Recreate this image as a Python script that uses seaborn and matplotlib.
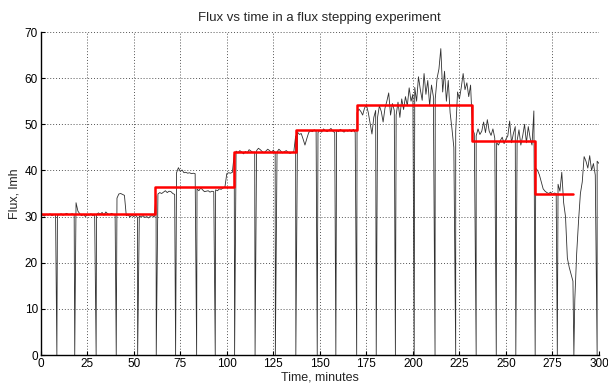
import numpy as np
import pandas as pd
import matplotlib
matplotlib.use("Agg")
import matplotlib.pyplot as plt
import seaborn as sns

flux_minutely = [
    30.2, 30.4, 30.1, 30.5, 30.3, 30.6, 30.2, 30.4, 30.5, 30.3,
    30.4, 30.6, 30.3, 30.5, 30.7, 30.4, 30.5, 30.6, 30.4, 33.0,
    31.2, 30.6, 30.2, 30.5, 30.0, 30.4, 30.3, 30.6, 30.2, 30.5,
    30.4, 30.8, 30.5, 30.9, 30.3, 31.0, 30.6, 30.4, 30.7, 30.5,
    30.3, 34.0, 34.9, 35.0, 34.8, 34.6, 30.2, 30.4, 29.9, 30.3,
    30.0, 30.3, 29.8, 30.1, 29.9, 30.2, 29.8, 30.0, 29.7, 30.1,
    30.2, 29.9, 34.5, 34.9, 35.2, 35.0, 35.3, 35.6, 35.2, 35.5,
    35.4, 35.0, 34.8, 39.5, 40.6, 39.8, 40.1, 39.5, 39.6, 39.4,
    39.5, 39.3, 39.4, 39.3, 36.0, 35.6, 36.2, 35.8, 35.4, 35.5,
    35.6, 35.3, 35.5, 35.4, 35.8, 35.6, 36.0, 35.9, 36.2, 36.4,
    39.3, 39.5, 39.4, 39.6, 43.5, 44.2, 43.8, 44.3, 44.0, 43.6,
    44.1, 43.8, 44.5, 44.2, 43.9, 44.0, 44.3, 44.8, 44.5, 44.1,
    43.8, 44.2, 44.6, 44.3, 43.9, 44.4, 43.8, 44.0, 44.6, 44.2,
    43.8, 44.1, 44.3, 43.9, 43.7, 43.9, 44.0, 47.5, 48.3, 47.8,
    48.0, 46.8, 45.5, 46.9, 48.2, 48.6, 48.4, 48.8, 48.5, 48.2,
    48.7, 48.3, 49.0, 48.6, 48.4, 48.8, 49.1, 48.5, 48.2, 48.7,
    48.4, 48.9, 48.6, 48.3, 48.7, 48.5, 48.8, 48.4, 48.9, 48.2,
    52.5, 53.3, 52.8, 52.0, 53.5, 54.2, 52.6, 50.2, 47.9, 51.5,
    53.0, 51.5, 54.0, 52.8, 50.5, 53.5, 55.0, 56.8, 52.0, 54.5,
    53.0, 52.0, 54.8, 51.5, 55.5, 53.2, 56.0, 54.0, 57.9, 55.0,
    56.5, 58.0, 55.0, 60.3, 57.5, 55.2, 61.0, 56.5, 59.5, 54.0,
    58.5, 56.0, 55.5, 60.0, 62.0, 66.4, 57.0, 61.5, 55.0, 59.5,
    52.5, 49.0, 45.0, 48.5, 57.0, 55.5, 58.0, 61.0, 57.5, 59.0,
    56.0, 58.5, 49.0, 48.0, 47.5, 49.0, 47.8, 48.5, 50.5, 48.2,
    51.0, 48.5, 47.6, 49.0, 47.0, 46.0, 45.5, 46.5, 47.2, 45.8,
    46.8, 47.5, 50.7, 46.0, 48.0, 49.5, 46.5, 48.8, 45.5, 47.5,
    50.0, 46.0, 49.5, 47.0, 45.5, 52.9, 40.5, 40.0, 39.0, 37.5,
    36.0, 35.5, 35.2, 35.0, 35.3, 34.8, 35.1, 35.0, 37.0, 35.5,
    39.6, 33.0, 30.0, 21.0, 19.0, 17.5, 16.0, 12.0, 22.0, 29.0,
    35.0, 37.5, 43.0, 42.0, 40.5, 43.2, 40.0, 41.5, 39.0, 42.0,
    41.5,
]
time_minutely = list(range(0, 301))

# Backflush dips (flux drops to zero)
dip_times = [8.7, 18.3, 29.8, 40.6, 52.1, 62.1, 72.5, 83.8, 93.8, 104.2,
             115.2, 126.1, 137.1, 148.6, 158.6, 169.8, 180.3, 190.6, 200.7,
             211.9, 223.0, 234.0, 244.8, 255.3, 265.7, 277.6, 286.5, 299.0]
dip_flux = [0.0] * len(dip_times)

# Set-point flux steps
step_times = [0, 61.4, 104.0, 137.0, 170.0, 232.0, 265.8, 286.0]
step_flux = [30.5, 36.5, 44.0, 48.8, 54.1, 46.4, 35.0, 35.0]

meas = pd.concat([
    pd.DataFrame({"time": time_minutely, "flux": flux_minutely}),
    pd.DataFrame({"time": dip_times, "flux": dip_flux}),
]).sort_values("time").reset_index(drop=True)
steps = pd.DataFrame({"time": step_times, "flux": step_flux})

sns.set_style("white")
plt.rcParams["font.family"] = ["Liberation Sans", "DejaVu Sans"]

fig = plt.figure(figsize=(6.08, 3.83), dpi=100)
ax = fig.add_axes([0.0669, 0.0731, 0.9183, 0.8433])

sns.lineplot(data=meas, x="time", y="flux", ax=ax, color="#303030",
             linewidth=0.6, estimator=None, sort=False)
sns.lineplot(data=steps, x="time", y="flux", ax=ax, color="#ff0000",
             linewidth=1.8, estimator=None, sort=False, drawstyle="steps-post")

ax.set_xlim(0, 300)
ax.set_ylim(0, 70)
ax.set_xticks(np.arange(0, 301, 25))
ax.set_yticks(np.arange(0, 71, 10))
ax.grid(True, color="#555555", linestyle=(0, (1, 2)), linewidth=0.7)
ax.set_axisbelow(True)
for s in ["top", "right"]:
    ax.spines[s].set_visible(False)
for s in ["left", "bottom"]:
    ax.spines[s].set_color("black")
    ax.spines[s].set_linewidth(1.0)
ax.tick_params(direction="in", length=3, width=0.8, labelsize=8.5,
               left=True, bottom=True, pad=2, colors="black")

ax.set_title("Flux vs time in a flux stepping experiment", fontsize=9.5, pad=8)
ax.set_xlabel("Time, minutes", fontsize=9, labelpad=1)
ax.set_ylabel("Flux, lmh", fontsize=9, labelpad=3)

fig.savefig("out.png", dpi=100)
